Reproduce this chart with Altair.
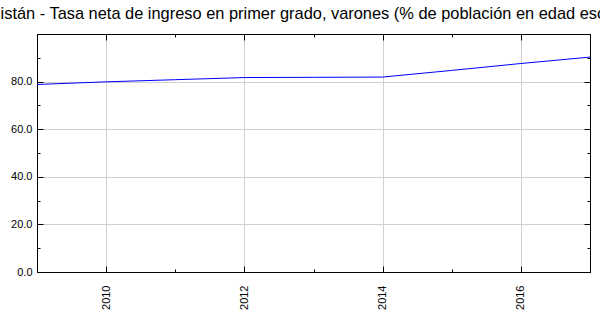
import altair as alt
import pandas as pd

# Data
years = [2009, 2010, 2011, 2012, 2013, 2014, 2015, 2016, 2017]
values = [78.8, 79.9, 80.8, 81.7, 81.8, 81.9, 84.7, 87.6, 90.3]

major_x = [2010, 2012, 2014, 2016]
minor_x = [2009, 2011, 2013, 2015, 2017]
label_y = [0, 20, 40, 60, 80]
major_y = [0, 20, 40, 60, 80, 100]
minor_y = [10, 30, 50, 70, 90]

title_text = ("Turkmenistán - Tasa neta de ingreso en primer grado, varones "
              "(% de población en edad escolar oficial)")

W, H = 553, 238
FONT = "Liberation Sans"

df = pd.DataFrame({"year": years, "value": values})

xscale = alt.Scale(domain=[2009, 2017], nice=False, zero=False)
yscale = alt.Scale(domain=[0, 100], nice=False, zero=False)


def layer(xaxis, yaxis, visible=False):
    return alt.Chart(df).mark_line(
        color="#0000ff", strokeWidth=1, opacity=1 if visible else 0
    ).encode(
        x=alt.X("year:Q", scale=xscale, axis=xaxis, title=None),
        y=alt.Y("value:Q", scale=yscale, axis=yaxis, title=None),
    )


def tick_axis(orient, offset, vals, size, domain=False):
    return alt.Axis(
        orient=orient, offset=offset, values=vals, tickSize=size,
        tickColor="black", tickWidth=1, labels=False, domain=domain,
        domainColor="black", domainWidth=1, grid=False, ticks=True,
    )


main_x = alt.Axis(
    orient="bottom", values=major_x, format="d", labelAngle=270,
    labelFont=FONT, labelFontSize=11, labelColor="black", labelPadding=13,
    ticks=False, domain=True, domainColor="black", domainWidth=1,
    grid=True, gridColor="#d0d0d0", gridWidth=1,
)
main_y = alt.Axis(
    orient="left", values=label_y, format=".1f",
    labelFont=FONT, labelFontSize=11, labelColor="black", labelPadding=5,
    ticks=False, domain=True, domainColor="black", domainWidth=1,
    grid=True, gridColor="#d0d0d0", gridWidth=1,
)

layers = [
    layer(main_x, main_y, visible=True),
    # bottom / left inward ticks
    layer(tick_axis("top", -H, major_x, 6), tick_axis("right", -W, major_y, 6)),
    layer(tick_axis("top", -H, minor_x, 3), tick_axis("right", -W, minor_y, 3)),
    # top / right inward ticks with frame lines
    layer(tick_axis("bottom", -H, major_x, 6, domain=True),
          tick_axis("left", -W, major_y, 6, domain=True)),
    layer(tick_axis("bottom", -H, minor_x, 3), tick_axis("left", -W, minor_y, 3)),
]

chart = alt.layer(*layers).resolve_axis(
    x="independent", y="independent"
).properties(
    width=W, height=H,
    title=alt.TitleParams(
        text=title_text, font=FONT, fontSize=16.4, fontWeight="normal",
        color="black", anchor="middle", baseline="alphabetic", offset=7,
        dx=-3, dy=9,
    ),
    autosize=alt.AutoSizeParams(type="none"),
    padding={"left": 37, "top": 34, "right": 10, "bottom": 43},
).configure_view(stroke=None)

chart.save("out.html", embed_options={"renderer": "svg", "actions": False})
